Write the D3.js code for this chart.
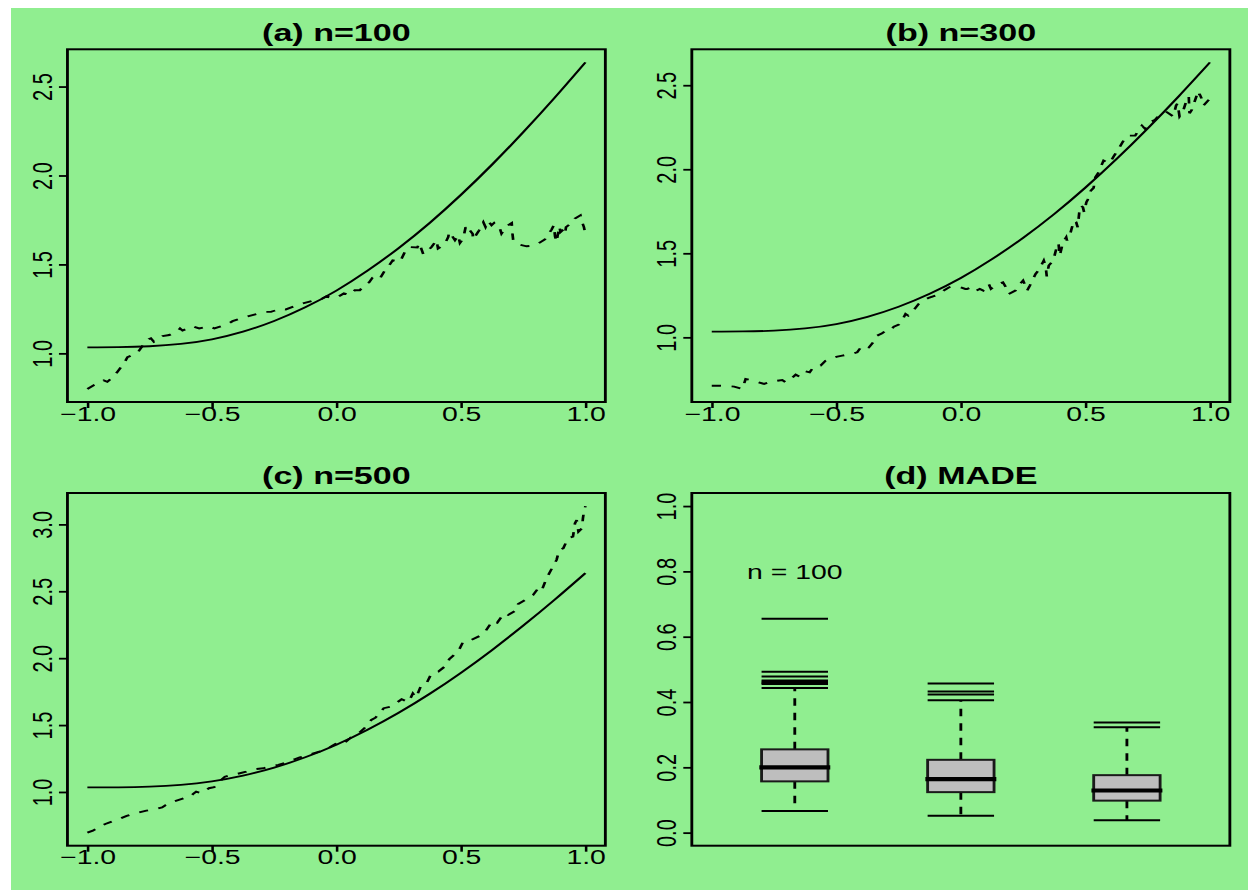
<!DOCTYPE html>
<html><head><meta charset="utf-8">
<script src="https://cdn.jsdelivr.net/npm/d3@7"></script>
<style>
body{margin:0;background:#fff}
svg{display:block}
text{font-family:"Liberation Sans",Arial,Helvetica,sans-serif;fill:#000}
</style>
</head><body>
<svg id="chart" width="1248" height="890"></svg>
<script>
// ---------------- data ----------------
const titles = ["(a) n=100", "(b) n=300", "(c) n=500", "(d) MADE"];
const xTicks = [-1, -0.5, 0, 0.5, 1];
const yTicksAB = [1.0, 1.5, 2.0, 2.5];
const yTicksC = [1.0, 1.5, 2.0, 2.5, 3.0];
const yTicksD = [0.0, 0.2, 0.4, 0.6, 0.8, 1.0];

// true regression curve (solid)
const trueX = [-1, -0.875, -0.75, -0.625, -0.5, -0.375, -0.25, -0.125, 0, 0.125, 0.25, 0.375, 0.5, 0.625, 0.75, 0.875, 1];
const trueY = [1.034, 1.035, 1.040, 1.053, 1.079, 1.122, 1.182, 1.259, 1.353, 1.465, 1.592, 1.734, 1.891, 2.061, 2.243, 2.435, 2.636];

// estimate, n=100 (dashed)
const estAx = [-1.0,-0.973,-0.945,-0.934,-0.92,-0.895,-0.879,-0.852,-0.839,-0.80,-0.78,-0.753,-0.745,-0.733,-0.698,-0.671,-0.638,-0.628,-0.618,-0.578,-0.551,-0.511,-0.49,-0.437,-0.417,-0.363,-0.337,-0.286,-0.263,-0.223,-0.203,-0.156,-0.136,-0.096,-0.069,-0.04,-0.015,0.007,0.03,0.054,0.074,0.094,0.112,0.132,0.145,0.161,0.175,0.195,0.208,0.226,0.255,0.275,0.292,0.325,0.333,0.349,0.369,0.382,0.402,0.408,0.428,0.436,0.449,0.453,0.463,0.476,0.489,0.496,0.509,0.519,0.529,0.536,0.547,0.549,0.56,0.573,0.583,0.59,0.599,0.61,0.623,0.633,0.65,0.657,0.663,0.683,0.704,0.707,0.71,0.73,0.764,0.79,0.81,0.837,0.864,0.873,0.878,0.884,0.895,0.9,0.911,0.918,0.922,0.95,0.958,0.98,0.986,0.994,1.0];
const estAy = [0.80,0.822,0.838,0.848,0.84,0.869,0.897,0.946,0.979,1.00,1.04,1.08,1.085,1.065,1.097,1.103,1.125,1.14,1.128,1.153,1.14,1.153,1.14,1.164,1.181,1.205,1.215,1.233,1.233,1.252,1.247,1.271,1.28,1.295,1.299,1.32,1.31,1.318,1.337,1.327,1.355,1.355,1.383,1.40,1.426,1.434,1.421,1.467,1.486,1.523,1.514,1.57,1.598,1.595,1.62,1.557,1.58,1.598,1.636,1.589,1.608,1.617,1.654,1.682,1.664,1.636,1.664,1.62,1.645,1.71,1.682,1.692,1.673,1.64,1.664,1.692,1.72,1.738,1.71,1.744,1.72,1.733,1.70,1.70,1.673,1.714,1.733,1.673,1.636,1.613,1.602,1.605,1.617,1.64,1.696,1.72,1.658,1.626,1.714,1.682,1.696,1.673,1.71,1.738,1.758,1.776,1.74,1.71,1.668];

// estimate, n=300 (dashed)
const estBx = [-1.0,-0.964,-0.91,-0.877,-0.864,-0.844,-0.79,-0.757,-0.717,-0.703,-0.683,-0.663,-0.647,-0.626,-0.607,-0.59,-0.563,-0.543,-0.52,-0.496,-0.476,-0.44,-0.416,-0.396,-0.369,-0.349,-0.336,-0.316,-0.302,-0.282,-0.269,-0.249,-0.238,-0.222,-0.211,-0.189,-0.169,-0.15,-0.129,-0.102,-0.08,-0.065,-0.042,-0.02,-0.002,0.018,0.025,0.043,0.052,0.063,0.076,0.09,0.112,0.121,0.145,0.169,0.185,0.192,0.219,0.232,0.25,0.259,0.266,0.277,0.3,0.313,0.333,0.34,0.345,0.353,0.371,0.383,0.392,0.397,0.402,0.41,0.423,0.426,0.439,0.45,0.455,0.463,0.469,0.477,0.482,0.49,0.495,0.504,0.509,0.522,0.533,0.54,0.553,0.573,0.597,0.616,0.629,0.653,0.667,0.7,0.713,0.727,0.74,0.76,0.78,0.8,0.82,0.827,0.853,0.864,0.87,0.878,0.891,0.908,0.915,0.918,0.927,0.947,0.954,0.958,0.967,0.974,0.99,1.0];
const estBy = [0.712,0.712,0.707,0.693,0.752,0.746,0.723,0.738,0.746,0.732,0.752,0.778,0.766,0.798,0.792,0.826,0.832,0.861,0.875,0.885,0.891,0.901,0.911,0.951,0.94,0.976,1.01,1.024,1.04,1.04,1.064,1.076,1.095,1.139,1.129,1.163,1.199,1.22,1.235,1.248,1.265,1.282,1.302,1.30,1.298,1.288,1.288,1.298,1.278,1.278,1.288,1.278,1.318,1.288,1.314,1.327,1.288,1.258,1.278,1.308,1.338,1.308,1.278,1.308,1.377,1.401,1.457,1.427,1.362,1.427,1.457,1.526,1.56,1.486,1.516,1.565,1.595,1.576,1.615,1.675,1.695,1.685,1.655,1.764,1.784,1.774,1.744,1.804,1.818,1.873,1.889,1.952,1.982,2.052,2.036,2.082,2.111,2.171,2.2,2.2,2.23,2.26,2.24,2.28,2.294,2.33,2.34,2.34,2.314,2.379,2.393,2.314,2.34,2.419,2.433,2.333,2.353,2.439,2.419,2.449,2.419,2.379,2.405,2.42];

// estimate, n=500 (dashed)
const estCx = [-1.0,-0.978,-0.95,-0.928,-0.892,-0.87,-0.842,-0.806,-0.763,-0.727,-0.7,-0.685,-0.656,-0.612,-0.591,-0.575,-0.563,-0.541,-0.512,-0.491,-0.462,-0.448,-0.419,-0.398,-0.362,-0.333,-0.293,-0.261,-0.233,-0.204,-0.168,-0.147,-0.111,-0.082,-0.046,-0.03,-0.018,0.011,0.033,0.054,0.069,0.09,0.112,0.14,0.157,0.19,0.219,0.262,0.29,0.307,0.32,0.341,0.362,0.382,0.409,0.443,0.453,0.472,0.489,0.509,0.536,0.583,0.6,0.627,0.646,0.673,0.69,0.724,0.73,0.77,0.79,0.81,0.824,0.841,0.851,0.873,0.884,0.895,0.911,0.93,0.95,0.958,0.965,0.972,0.986,0.99,0.994,1.0];
const estCy = [0.696,0.711,0.74,0.761,0.786,0.80,0.821,0.841,0.86,0.871,0.885,0.903,0.928,0.953,0.96,0.985,1.002,0.99,1.028,1.035,1.09,1.114,1.127,1.135,1.152,1.17,1.177,1.194,1.202,1.219,1.244,1.259,1.277,1.294,1.314,1.33,1.344,1.376,1.368,1.401,1.426,1.439,1.476,1.538,1.555,1.626,1.638,1.693,1.672,1.737,1.706,1.80,1.812,1.887,1.899,1.949,1.992,2.024,2.049,2.123,2.131,2.173,2.205,2.28,2.265,2.336,2.323,2.36,2.405,2.448,2.472,2.522,2.504,2.584,2.622,2.697,2.734,2.809,2.821,2.896,2.908,3.008,3.033,2.945,2.971,3.046,3.095,3.137];

// MADE boxplots (n = 100, 300, 500)
const boxPos = [1, 2, 3];
const boxLo = [0.066, 0.052, 0.038];
const boxQ1 = [0.157, 0.124, 0.098];
const boxMed = [0.200, 0.164, 0.129];
const boxQ3 = [0.255, 0.223, 0.176];
const boxHi = [0.443, 0.405, 0.323];
const outliers1 = [0.455, 0.458, 0.462, 0.466, 0.478, 0.493, 0.655];
const outliers2 = [0.423, 0.432, 0.457];
const outliers3 = [0.337];
const noteLabel = "n = 100";
const notePos = [1, 0.8];

// ---------------- layout ----------------
const SX = 1.42;               // horizontal stretch of the whole figure
const panels = [
  {x0: 47.5,  x1: 426.3, y0: 49.3, y1: 402},
  {x0: 487.2, x1: 866.1, y0: 49.3, y1: 402},
  {x0: 47.5,  x1: 426.3, y0: 493,  y1: 845.7},
  {x0: 487.2, x1: 866.1, y0: 493,  y1: 845.7}
];
const fmt = v => (v < 0 ? "\u2212" : "") + Math.abs(v).toFixed(1);
const padExt = vals => { const e = d3.extent(vals); const r = e[1] - e[0]; return [e[0] - 0.04 * r, e[1] + 0.04 * r]; };

const svg = d3.select("#chart");
svg.append("rect").attr("x", 11).attr("y", 8).attr("width", 1237).attr("height", 882).attr("fill", "#90EE90");
const root = svg.append("g").attr("transform", `scale(${SX},1)`);

function frame(p, title) {
  root.append("rect").attr("x", p.x0).attr("y", p.y0).attr("width", p.x1 - p.x0).attr("height", p.y1 - p.y0)
    .attr("fill", "none").attr("stroke", "#000").attr("stroke-width", 2);
  root.append("text").attr("x", (p.x0 + p.x1) / 2).attr("y", p.y0 - 8.5).attr("text-anchor", "middle")
    .attr("font-size", 24).attr("font-weight", "bold").text(title);
}

function yAxis(p, y, ticks) {
  const ax = root.append("g").attr("transform", `translate(${p.x0},0)`)
    .call(d3.axisLeft(y).tickValues(ticks).tickSize(6).tickFormat(fmt));
  ax.select(".domain").remove();
  ax.selectAll("line").attr("stroke", "#000").attr("stroke-width", 1.8);
  ax.selectAll("text").attr("transform", "rotate(-90)").attr("x", 0).attr("y", -11).attr("dy", null)
    .attr("text-anchor", "middle").attr("font-size", 20).attr("fill", "#000")
    .attr("font-family", '"Liberation Sans",Arial,Helvetica,sans-serif');
}

function xAxis(p, x) {
  const ax = root.append("g").attr("transform", `translate(0,${p.y1})`)
    .call(d3.axisBottom(x).tickValues(xTicks).tickSize(6).tickFormat(fmt));
  ax.select(".domain").remove();
  ax.selectAll("line").attr("stroke", "#000").attr("stroke-width", 1.8);
  ax.selectAll("text").attr("y", 18.7).attr("dy", null).attr("font-size", 20).attr("fill", "#000")
    .attr("font-family", '"Liberation Sans",Arial,Helvetica,sans-serif');
}

function curvePanel(p, title, ex, ey, yTicks) {
  const x = d3.scaleLinear().domain(padExt(trueX.concat(ex))).range([p.x0, p.x1]);
  const y = d3.scaleLinear().domain(padExt(trueY.concat(ey))).range([p.y1, p.y0]);
  const solid = d3.line().x(d => x(d[0])).y(d => y(d[1])).curve(d3.curveNatural);
  const dashed = d3.line().x(d => x(d[0])).y(d => y(d[1]));
  root.append("path").attr("d", solid(d3.zip(trueX, trueY)))
    .attr("fill", "none").attr("stroke", "#000").attr("stroke-width", 1.8);
  root.append("path").attr("d", dashed(d3.zip(ex, ey)))
    .attr("fill", "none").attr("stroke", "#000").attr("stroke-width", 1.9)
    .attr("stroke-dasharray", "6.5,7.5");
  frame(p, title);
  yAxis(p, y, yTicks);
  xAxis(p, x);
}

curvePanel(panels[0], titles[0], estAx, estAy, yTicksAB);
curvePanel(panels[1], titles[1], estBx, estBy, yTicksAB);
curvePanel(panels[2], titles[2], estCx, estCy, yTicksC);

// ---- panel (d) boxplots ----
(function () {
  const p = panels[3];
  const x = d3.scaleLinear().domain([0.38, 3.62]).range([p.x0, p.x1]);
  const y = d3.scaleLinear().domain([-0.04, 1.04]).range([p.y1, p.y0]);
  const hw = x(1.2) - x(1);
  const outs = [outliers1, outliers2, outliers3];
  boxPos.forEach((b, i) => {
    const c = x(b);
    const g = root.append("g");
    [[boxQ3[i], boxHi[i]], [boxQ1[i], boxLo[i]]].forEach(([a, z]) => {
      g.append("line").attr("x1", c).attr("x2", c).attr("y1", y(a)).attr("y2", y(z))
        .attr("stroke", "#000").attr("stroke-width", 2).attr("stroke-dasharray", "7.5,7");
    });
    [boxHi[i], boxLo[i]].concat(outs[i]).forEach(v => {
      g.append("line").attr("x1", c - hw).attr("x2", c + hw).attr("y1", y(v)).attr("y2", y(v))
        .attr("stroke", "#000").attr("stroke-width", 2);
    });
    g.append("rect").attr("x", c - hw).attr("y", y(boxQ3[i])).attr("width", 2 * hw)
      .attr("height", y(boxQ1[i]) - y(boxQ3[i]))
      .attr("fill", "#BEBEBE").attr("stroke", "#1a1a1a").attr("stroke-width", 2);
    g.append("line").attr("x1", c - hw - 1.6).attr("x2", c + hw + 1.6).attr("y1", y(boxMed[i])).attr("y2", y(boxMed[i]))
      .attr("stroke", "#000").attr("stroke-width", 4.2);
  });
  root.append("text").attr("x", x(notePos[0])).attr("y", y(notePos[1]) + 7.5).attr("text-anchor", "middle")
    .attr("font-size", 20).text(noteLabel);
  frame(p, titles[3]);
  yAxis(p, y, yTicksD);
})();
</script>
</body></html>
